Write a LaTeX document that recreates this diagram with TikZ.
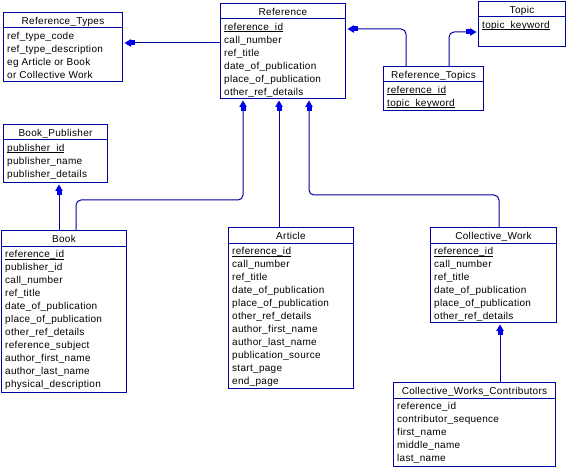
\documentclass[tikz,border=0pt]{standalone}
\usepackage{fontspec}
\usetikzlibrary{arrows.meta}
\newfontfamily\tabfontfam{Liberation Sans}[LetterSpace=3]
\newcommand\tabfont{\tabfontfam\fontsize{10}{13}\selectfont}
\newsavebox\pkbox
\newcommand\pk[1]{\sbox\pkbox{#1}\rlap{\rule[-1.8pt]{\wd\pkbox}{0.8pt}}\usebox\pkbox}
\definecolor{navy}{RGB}{0,0,160}
\definecolor{tipblue}{RGB}{0,0,235}
\tikzset{
  tbox/.style={draw=navy, line width=1pt, inner sep=0pt},
  tline/.style={draw=navy, line width=1pt},
  hdr/.style={anchor=base, inner sep=0pt, font=\tabfont},
  row/.style={anchor=base west, inner sep=0pt, font=\tabfont},
  fk/.style={draw=navy, line width=1pt, rounded corners=5pt, shorten >=1.5pt,
    -{Rectangle[length=3.7pt,width=5pt,color=tipblue]Triangle[length=6.5pt,width=7.5pt,color=tipblue]}},
}
\newcommand\ertab[7]{%
  \node[tbox, minimum width=#4pt, minimum height=#5pt, anchor=north west] (#1) at (#2,#3) {};
  \draw[tline] ([yshift=-16pt]#1.north west) -- ([yshift=-16pt]#1.north east);
  \node[hdr] (#1-t) at ([yshift=-12.5pt]#1.north) {#6};
  \foreach \r [count=\i] in {#7} {
    \node[row] (#1-\i) at ([xshift=4pt,yshift={-27.5pt-13pt*(\i-1)}]#1.north west) {\r};
  }
}
\begin{document}
\begin{tikzpicture}[x=1pt,y=-1pt]
\useasboundingbox (0,0) rectangle (568,468);
\ertab{rtypes}{3}{12}{119}{69}{Reference\_Types}{ref\_type\_code, ref\_type\_description, eg Article or Book, or Collective Work}
\ertab{ref}{220}{3}{125}{95}{Reference}{\pk{reference\_id}, call\_number, ref\_title, date\_of\_publication, place\_of\_publication, other\_ref\_details}
\ertab{topic}{478}{1}{87}{45}{Topic}{\pk{topic\_keyword}}
\ertab{rtop}{383}{66}{100}{44}{Reference\_Topics}{\pk{reference\_id}, \pk{topic\_keyword}}
\ertab{bpub}{3}{124}{104}{58}{Book\_Publisher}{\pk{publisher\_id}, publisher\_name, publisher\_details}
\ertab{book}{1}{230}{125}{162}{Book}{\pk{reference\_id}, publisher\_id, call\_number, ref\_title, date\_of\_publication, place\_of\_publication, other\_ref\_details, reference\_subject, author\_first\_name, author\_last\_name, physical\_description}
\ertab{art}{228}{227}{125}{161}{Article}{\pk{reference\_id}, call\_number, ref\_title, date\_of\_publication, place\_of\_publication, other\_ref\_details, author\_first\_name, author\_last\_name, publication\_source, start\_page, end\_page}
\ertab{cw}{430}{227}{126}{95}{Collective\_Work}{\pk{reference\_id}, call\_number, ref\_title, date\_of\_publication, place\_of\_publication, other\_ref\_details}
\ertab{cwc}{393}{382}{162}{84}{Collective\_Works\_Contributors}{reference\_id, contributor\_sequence, first\_name, middle\_name, last\_name}
% connectors
\coordinate (j1) at (243,200);
\coordinate (j2) at (309,195);
\draw[fk] ([yshift=-40pt]ref.north west) -- ([yshift=-40pt]ref.north west -| rtypes.east);
\draw[fk] ([xshift=23pt]rtop.north west) |- ([yshift=-26pt]ref.north east);
\draw[fk] ([xshift=66pt]rtop.north west) |- ([yshift=-31pt]topic.north west);
\draw[fk] ([xshift=58pt]book.north west) -- ([xshift=58pt]book.north west |- bpub.south);
\draw[fk] ([xshift=75pt]book.north west) |- (j1) -- (j1 |- ref.south);
\draw[fk] ([xshift=51pt]art.north west) -- ([xshift=51pt]art.north west |- ref.south);
\draw[fk] ([xshift=69pt]cw.north west) |- (j2) -- (j2 |- ref.south);
\draw[fk] ([xshift=107pt]cwc.north west) -- ([xshift=107pt]cwc.north west |- cw.south);
\end{tikzpicture}
\end{document}
